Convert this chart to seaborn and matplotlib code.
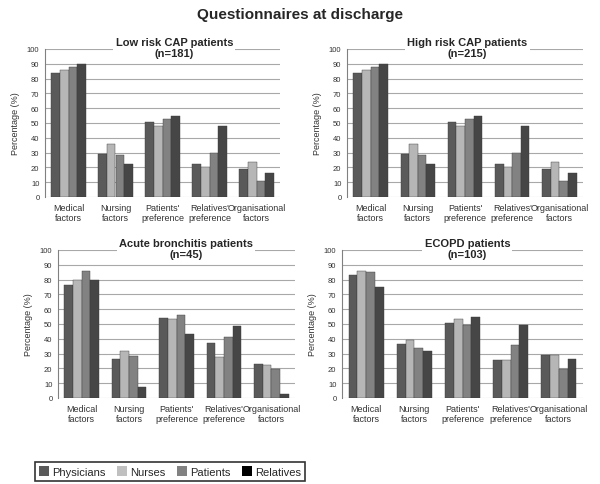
import matplotlib
matplotlib.use("Agg")
import matplotlib.pyplot as plt
import seaborn as sns
import pandas as pd
from matplotlib.patches import Patch

categories = ["Medical\nfactors", "Nursing\nfactors", "Patients'\npreference",
              "Relatives'\npreference", "Organisational\nfactors"]
groups = ["Physicians", "Nurses", "Patients", "Relatives"]

low_risk = {
    "Physicians": [84, 29, 51, 22, 19],
    "Nurses":     [86, 36, 48, 20, 23.5],
    "Patients":   [88, 28.5, 53, 30, 11],
    "Relatives":  [90, 22, 55, 48, 16.5],
}
high_risk = {
    "Physicians": [84, 29, 51, 22, 19],
    "Nurses":     [86, 36, 48, 20, 23.5],
    "Patients":   [88, 28.5, 53, 30, 11],
    "Relatives":  [90, 22, 55, 48, 16.5],
}
bronchitis = {
    "Physicians": [76.5, 26.5, 54, 37.5, 23],
    "Nurses":     [79.5, 31.5, 53.5, 28, 22.5],
    "Patients":   [86, 28.5, 56, 41.5, 19.5],
    "Relatives":  [80, 7.5, 43, 48.5, 3],
}
ecopd = {
    "Physicians": [83, 36.5, 51, 26, 29],
    "Nurses":     [85.5, 39, 53.5, 25.5, 29],
    "Patients":   [85, 34, 49.5, 36, 19.5],
    "Relatives":  [75, 32, 55, 49.5, 26.5],
}
titles = ["Low risk CAP patients\n(n=181)", "High risk CAP patients\n(n=215)",
          "Acute bronchitis patients\n(n=45)", "ECOPD patients\n(n=103)"]
yticks = list(range(0, 101, 10))

bar_colors = {"Physicians": "#5a5a5a", "Nurses": "#b6b6b6",
              "Patients": "#828282", "Relatives": "#464646"}
legend_colors = {"Physicians": "#5a5a5a", "Nurses": "#c0c0c0",
                 "Patients": "#828282", "Relatives": "#000000"}

sns.set_style("white")
plt.rcParams["font.family"] = ["Liberation Sans", "DejaVu Sans"]

fig = plt.figure(figsize=(6, 4.85), dpi=100)
W, H = 600, 485

def px_axes(l, t, r, b):
    return fig.add_axes([l / W, (H - b) / H, (r - l) / W, (b - t) / H])

rects = [(45, 50, 280, 198), (347, 50, 583, 198),
         (58, 251, 295, 399), (342, 251, 583, 399)]
datasets = [low_risk, high_risk, bronchitis, ecopd]
title_offsets = [0.05, 0.01, 0.04, 0.02]

for rect, data, title, toff in zip(rects, datasets, titles, title_offsets):
    ax = px_axes(*rect)
    rows = []
    for g in groups:
        for c, v in zip(categories, data[g]):
            rows.append({"cat": c, "group": g, "value": v})
    df = pd.DataFrame(rows)
    sns.barplot(data=df, x="cat", y="value", hue="group", order=categories,
                hue_order=groups, palette=bar_colors, width=0.73,
                saturation=1, ax=ax, legend=False, errorbar=None,
                edgecolor="#3a3a3a", linewidth=0.3, zorder=3)
    ax.set_ylim(0, 100)
    ax.set_xlim(-0.5, 4.5)
    ax.set_yticks(yticks)
    ax.yaxis.grid(True, color="#a8a8a8", linewidth=0.8, zorder=0)
    ax.set_axisbelow(True)
    for s in ["top", "right", "bottom"]:
        ax.spines[s].set_visible(False)
    ax.spines["left"].set_color("#808080")
    ax.spines["left"].set_linewidth(0.8)
    ax.tick_params(axis="y", labelsize=5.5, length=2.5, width=0.6,
                   color="#808080", pad=1.5, labelcolor="#333333")
    ax.tick_params(axis="x", labelsize=6.5, length=0, pad=4,
                   labelcolor="#333333")
    ax.set_xlabel("")
    ax.set_ylabel("Percentage (%)", fontsize=6.5, color="#333333", labelpad=5)
    ax.text(0.5 + toff, 1.08, title, transform=ax.transAxes, ha="center",
            va="top", fontsize=8, fontweight="bold", linespacing=1.15,
            bbox=dict(facecolor="white", edgecolor="none", pad=1.5),
            zorder=10)

fig.text(0.5, 1 - 15 / H, "Questionnaires at discharge", ha="center",
         va="center", fontsize=11, fontweight="bold")

handles = [Patch(facecolor=legend_colors[g], edgecolor="none", label=g)
           for g in groups]
leg = fig.legend(handles=handles, loc="center", ncol=4,
                 bbox_to_anchor=(170 / W, 1 - 472.5 / H), frameon=True,
                 fontsize=8, handlelength=0.9, handleheight=0.9,
                 handletextpad=0.3, columnspacing=1.0, borderpad=0.4,
                 fancybox=False)
leg.get_frame().set_edgecolor("black")
leg.get_frame().set_linewidth(1.2)

fig.savefig("out.png", dpi=100)
